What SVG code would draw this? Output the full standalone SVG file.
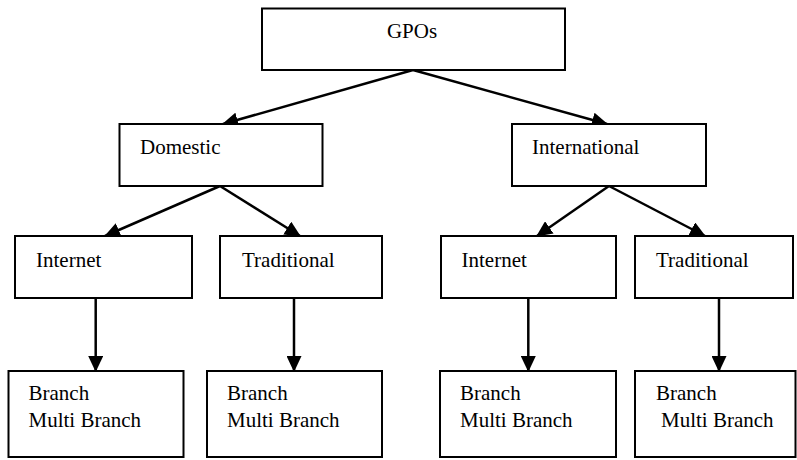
<svg xmlns="http://www.w3.org/2000/svg" width="797" height="460" viewBox="0 0 797 460">
<style>
.box{fill:#fff;stroke:#000;stroke-width:2}
.t{font-family:"Liberation Serif","Times New Roman",serif;font-size:21px;fill:#000}
.c{stroke:#000;stroke-width:2.5;fill:none;marker-end:url(#ah)}
</style>
<defs>
<marker id="ah" markerUnits="userSpaceOnUse" markerWidth="16" markerHeight="15" refX="15" refY="7.5" orient="auto">
<path d="M0,0 L16,7.5 L0,15 z" fill="#000"/>
</marker>
</defs>
<rect width="797" height="460" fill="#fff"/>
<g id="connectors">
<line class="c" x1="413" y1="70" x2="223" y2="124"/>
<line class="c" x1="413" y1="70" x2="607" y2="124"/>
<line class="c" x1="220" y1="186" x2="105" y2="236"/>
<line class="c" x1="220" y1="186" x2="300" y2="236"/>
<line class="c" x1="609" y1="186" x2="537" y2="236"/>
<line class="c" x1="609" y1="186" x2="705" y2="236"/>
<line class="c" x1="95.7" y1="298" x2="95.7" y2="371"/>
<line class="c" x1="294" y1="298" x2="294" y2="371"/>
<line class="c" x1="528.3" y1="298" x2="528.3" y2="371"/>
<line class="c" x1="719" y1="298" x2="719" y2="371"/>
</g>
<g id="gpos"><rect class="box" x="262" y="8.5" width="303" height="61.5"/><text class="t" x="412" y="38" text-anchor="middle">GPOs</text></g>
<g id="domestic"><rect class="box" x="119.5" y="124" width="203" height="62"/><text class="t" x="140" y="154">Domestic</text></g>
<g id="international"><rect class="box" x="512" y="124" width="194" height="62"/><text class="t" x="532" y="154">International</text></g>
<g id="dom-internet"><rect class="box" x="15" y="236" width="177" height="62"/><text class="t" x="36" y="266.5">Internet</text></g>
<g id="dom-traditional"><rect class="box" x="220" y="236" width="162" height="62"/><text class="t" x="242" y="266.5">Traditional</text></g>
<g id="int-internet"><rect class="box" x="441" y="236" width="175" height="62"/><text class="t" x="461.5" y="266.5">Internet</text></g>
<g id="int-traditional"><rect class="box" x="635" y="236" width="158" height="62"/><text class="t" x="656" y="266.5">Traditional</text></g>
<g id="dom-internet-branch"><rect class="box" x="8.5" y="371" width="175" height="86"/><text class="t" x="28.5" y="400">Branch</text><text class="t" x="28.5" y="426.5">Multi Branch</text></g>
<g id="dom-traditional-branch"><rect class="box" x="207" y="371" width="175" height="86"/><text class="t" x="227" y="400">Branch</text><text class="t" x="227" y="426.5">Multi Branch</text></g>
<g id="int-internet-branch"><rect class="box" x="440" y="371" width="176" height="86"/><text class="t" x="460" y="400">Branch</text><text class="t" x="460" y="426.5">Multi Branch</text></g>
<g id="int-traditional-branch"><rect class="box" x="635" y="371" width="160.5" height="86"/><text class="t" x="656" y="400">Branch</text><text class="t" x="661" y="426.5">Multi Branch</text></g>
</svg>
